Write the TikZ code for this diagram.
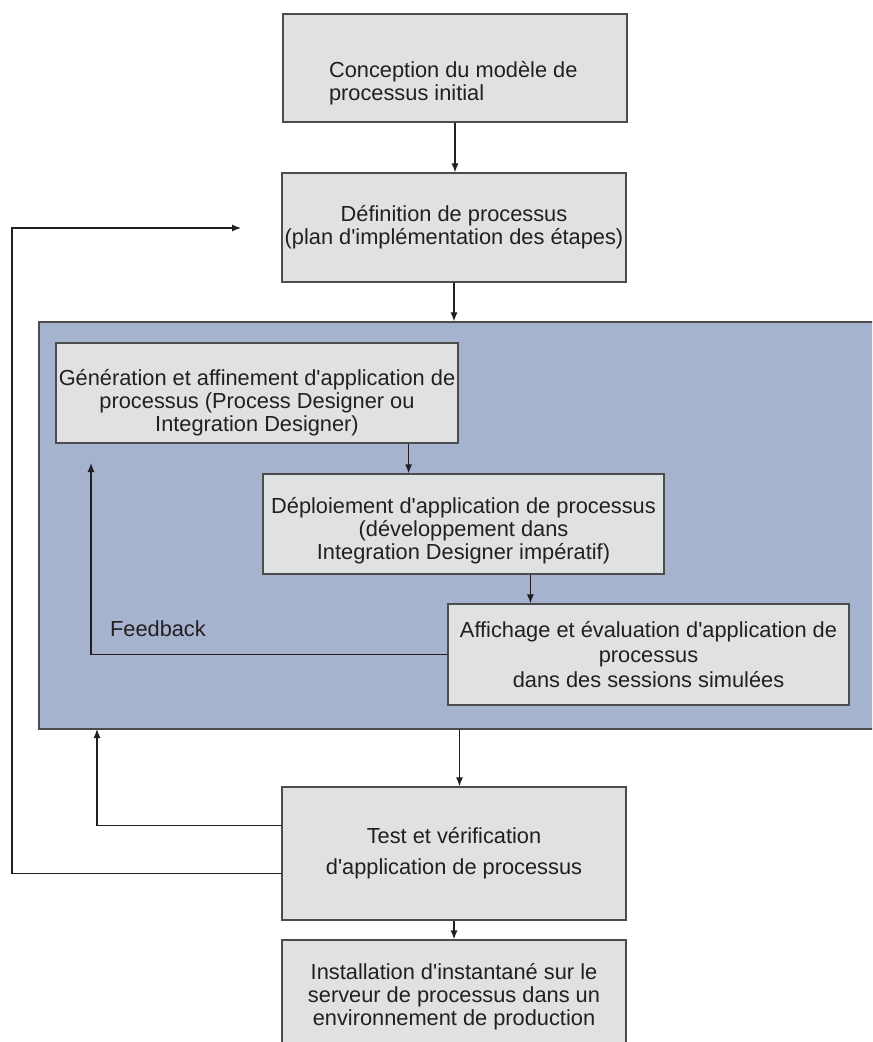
\documentclass[tikz,border=0pt]{standalone}
\usepackage{fontspec}
\setmainfont{Liberation Sans}[Ligatures=TeXOff]
\usetikzlibrary{arrows.meta}
\definecolor{boxgray}{RGB}{224,225,227}
\definecolor{zoneblue}{RGB}{166,179,207}
\definecolor{inkgray}{RGB}{35,31,32}

\begin{document}
\begin{tikzpicture}[x=0.5pt,y=-0.5pt,
  every node/.style={font=\fontsize{10.9}{11.6}\selectfont, text=inkgray},
  box/.style={draw=black!70, line width=0.6pt, fill=boxgray, inner sep=0pt, align=center},
  zone/.style={draw=black!70, line width=0.6pt, fill=zoneblue, inner sep=0pt},
  arr/.style={draw=inkgray, line width=0.6pt, -{Latex[length=4.5pt,width=3.5pt]}}]
\useasboundingbox (0,0) rectangle (872,1042);
\clip (0,0) rectangle (872,1042);

	\node[box, minimum width=172pt, minimum height=54pt] (conc) at (455,68) {};
	\node[anchor=west, align=left] (conctxt) at (322,83) {Conception du modèle de\\processus initial};
	\node[box, minimum width=172pt, minimum height=54.5pt] (defn) at (454,227.5) {Définition de processus\\(plan d'implémentation des étapes)};

	\node[zone, minimum width=420.5pt, minimum height=203.5pt] (zone) at (459.5,525.5) {};
	\node[box, minimum width=201pt, minimum height=50pt] (gen) at (257,393) {};
	\node[align=center] (gentxt) at (257,403) {Génération et affinement d'application de\\processus (Process Designer ou\\Integration Designer)};
	\node[box, minimum width=200.5pt, minimum height=50pt] (depl) at (463.5,524) {};
	\node[align=center] (depltxt) at (463.5,531) {Déploiement d'application de processus\\(développement dans\\Integration Designer impératif)};
	\node[box, minimum width=200.5pt, minimum height=50.5pt] (aff) at (648.5,654.5) {Affichage et évaluation d'application de\\[1pt]processus\\[1pt]dans des sessions simulées};
	\node[anchor=west] (fb) at (103,629) {Feedback};

	\node[box, minimum width=172pt, minimum height=66.5pt] (test) at (454,853.5) {Test et vérification\\[4pt]d'application de processus};
	\node[box, minimum width=172pt, minimum height=70pt] (inst) at (454,1010) {};
	\node[align=center] (insttxt) at (454,997) {Installation d'instantané sur le\\serveur de processus dans un\\environnement de production};

	\coordinate (fbtip) at (91,463);
	\coordinate (uptip) at (97,729);
	\coordinate (loopcorner) at (12,228);
	\coordinate (looptip) at (241,228);

\draw[arr] (conc.south) -- (conc.south |- defn.north);
\draw[arr] (defn.south) -- (defn.south |- zone.north);
\draw[arr] ([xshift=-25pt]gen.south east) -- ([xshift=-25pt]gen.south east |- depl.north);
\draw[arr] ([xshift=41.5pt]aff.north west |- depl.south) -- ([xshift=41.5pt]aff.north west);
\draw[arr] (aff.west) -| (fbtip);
\draw[arr] (zone.south) -- (zone.south |- test.north);
\draw[arr] ([yshift=-19.5pt]test.north west) -| (uptip);
\draw[arr] ([yshift=-43.5pt]test.north west) -| (loopcorner) -- (looptip);
\draw[arr] (test.south) -- (inst.north);

\end{tikzpicture}
\end{document}
